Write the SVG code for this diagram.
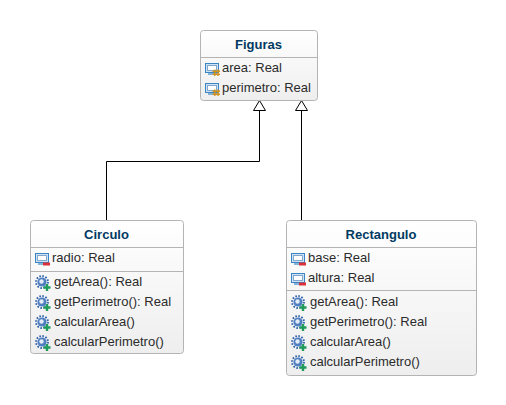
<svg xmlns="http://www.w3.org/2000/svg" width="506" height="405" viewBox="0 0 506 405">
<style>
.box{fill:url(#g);stroke:#b4b4b4;stroke-width:1}
.div{stroke:#b4b4b4;stroke-width:1;fill:none}
.title{font:bold 13px "Liberation Sans",Arial,sans-serif;fill:#003a63;text-anchor:middle}
.t{font:13px "Liberation Sans",Arial,sans-serif;fill:#2b2b2b}
.c{fill:none;stroke:#000;stroke-width:1}
.h{fill:#fff;stroke:#000;stroke-width:1}
</style>
<defs>
<linearGradient id="g" x1="0" y1="0" x2="0" y2="1"><stop offset="0" stop-color="#ffffff"/><stop offset="1" stop-color="#eeeeee"/></linearGradient>
<g id="field"><rect x="0.5" y="0.5" width="13" height="9" fill="#cfe2f3" stroke="#3a86c4"/><rect x="2.5" y="2.5" width="9" height="5" fill="#fff" stroke="#7fa8cc"/><path d="M3 11H12" stroke="#3a86c4" stroke-width="1.2"/></g>
<g id="priv"><use href="#field"/><rect x="8" y="9.5" width="7" height="3" fill="#d9303a"/></g>
<g id="prot"><use href="#field"/><path d="M9.8 6.5V13M13 6.5V13M7.5 8.2H15M7.5 11.2H15" stroke="#d0921c" stroke-width="1.4" fill="none"/></g>
<g id="op"><circle cx="7" cy="7" r="4.6" fill="#4f7fc0"/><circle cx="7" cy="7" r="6" fill="none" stroke="#2f62a8" stroke-width="1.8" stroke-dasharray="1.6 1.5"/><circle cx="6.5" cy="6.5" r="2.2" fill="#e3ecf7"/><path d="M8.5 12.5H15.5M12 9V16" stroke="#1f9a5a" stroke-width="2.4" fill="none"/></g>
</defs>
<g id="connectors">
<path class="c" d="M106.5 220V161.5H259.5V110.5"/>
<path class="h" d="M259.5 100.5L253.5 110.5H265.5Z"/>
<path class="c" d="M301.5 220V110.5"/>
<path class="h" d="M301.5 100.5L295.5 110.5H307.5Z"/>
</g>
<g id="figuras">
<rect class="box" x="200.5" y="30.5" width="117" height="70" rx="3"/>
<path class="div" d="M200.5 57.5H317.5"/>
<text class="title" x="258.5" y="49">Figuras</text>
<use href="#prot" x="205" y="63"/><text class="t" x="222" y="72">area: Real</text>
<use href="#prot" x="205" y="83"/><text class="t" x="222" y="92">perimetro: Real</text>
</g>
<g id="circulo">
<rect class="box" x="30.5" y="220.5" width="153" height="133" rx="3"/>
<path class="div" d="M30.5 247.5H183.5M30.5 271.5H183.5"/>
<text class="title" x="106.5" y="239">Circulo</text>
<use href="#priv" x="35" y="253"/><text class="t" x="52" y="262">radio: Real</text>
<use href="#op" x="35" y="275"/><text class="t" x="54" y="286">getArea(): Real</text>
<use href="#op" x="35" y="295"/><text class="t" x="54" y="306">getPerimetro(): Real</text>
<use href="#op" x="35" y="315"/><text class="t" x="54" y="326">calcularArea()</text>
<use href="#op" x="35" y="335"/><text class="t" x="54" y="346">calcularPerimetro()</text>
</g>
<g id="rectangulo">
<rect class="box" x="286.5" y="220.5" width="190" height="155" rx="3"/>
<path class="div" d="M286.5 247.5H476.5M286.5 290.5H476.5"/>
<text class="title" x="381" y="239">Rectangulo</text>
<use href="#priv" x="291" y="253"/><text class="t" x="308" y="262">base: Real</text>
<use href="#priv" x="291" y="273"/><text class="t" x="308" y="282">altura: Real</text>
<use href="#op" x="291" y="295"/><text class="t" x="310" y="306">getArea(): Real</text>
<use href="#op" x="291" y="315"/><text class="t" x="310" y="326">getPerimetro(): Real</text>
<use href="#op" x="291" y="335"/><text class="t" x="310" y="346">calcularArea()</text>
<use href="#op" x="291" y="355"/><text class="t" x="310" y="366">calcularPerimetro()</text>
</g>
</svg>
